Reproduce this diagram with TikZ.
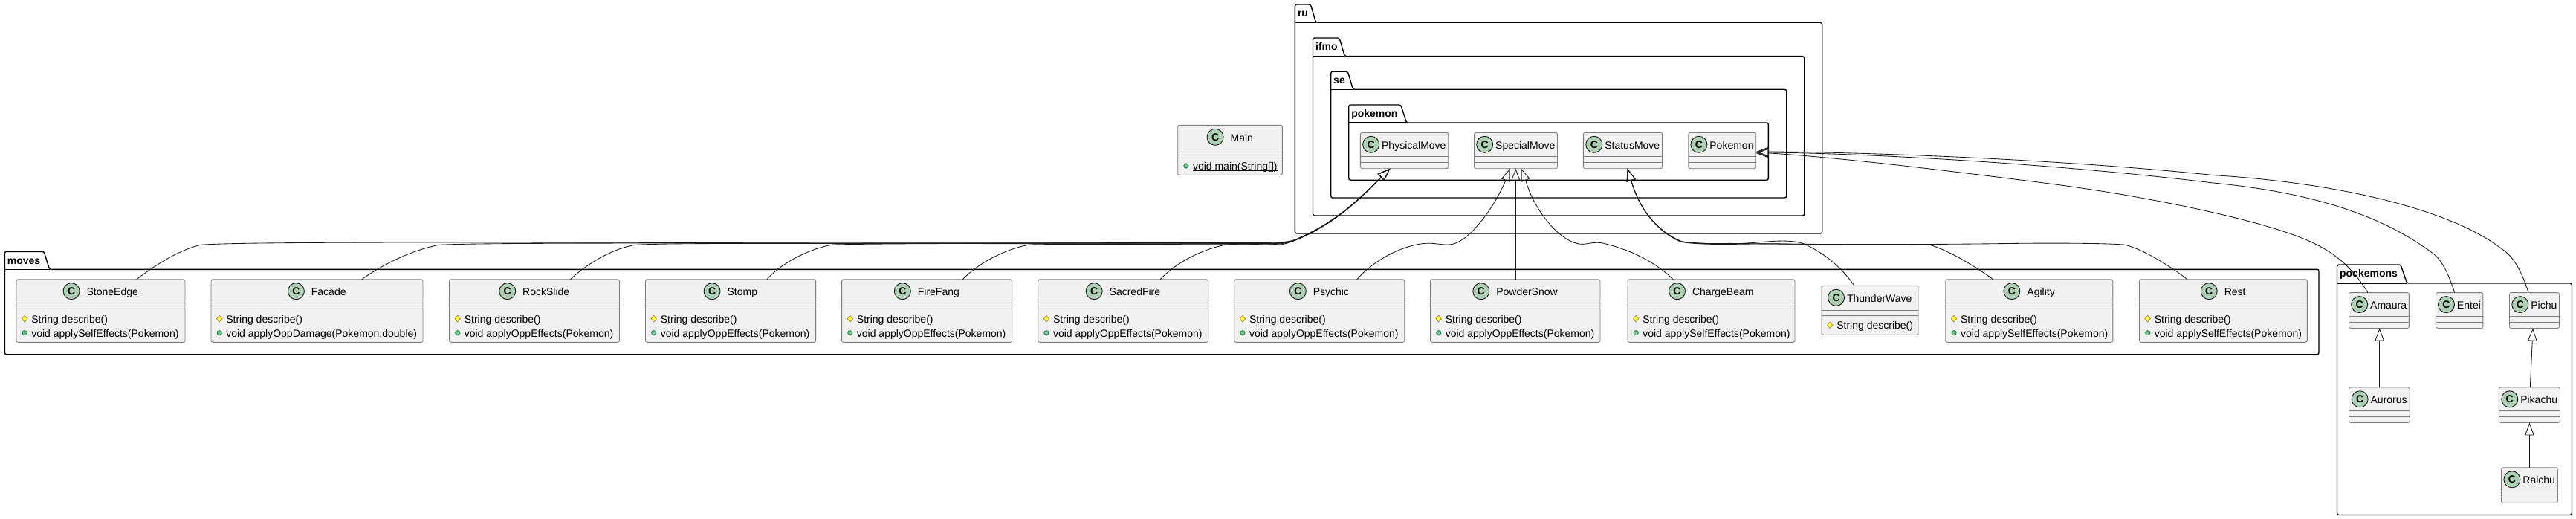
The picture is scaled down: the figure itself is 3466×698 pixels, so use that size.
\documentclass[tikz,border=0pt]{standalone}
\usepackage{fontspec}
\setmainfont{Liberation Sans}
\usetikzlibrary{arrows.meta,shapes.geometric}
\definecolor{boxline}{HTML}{7C7C7C}
\definecolor{boxfill}{HTML}{F1F1F1}
\definecolor{spotfill}{HTML}{ADD1B2}
\definecolor{edgeline}{HTML}{181818}
\definecolor{pubfill}{HTML}{84BE84}
\definecolor{publine}{HTML}{038048}
\definecolor{protfill}{HTML}{FFFF44}
\definecolor{protline}{HTML}{B38D22}
\newcommand{\umlfont}{\fontsize{14}{16}\selectfont}
\tikzset{
  x=1pt,y=-1pt,
  classbox/.style={draw=boxline,fill=boxfill,line width=.9pt,rounded corners=2.5pt,inner sep=0pt,outer sep=0pt},
  classsep/.style={draw=boxline,line width=.9pt},
  spot/.style={circle,draw=edgeline,fill=spotfill,line width=.9pt,minimum size=22pt,inner sep=0pt,font=\umlfont\bfseries},
  umltext/.style={inner sep=0pt,outer sep=0pt,anchor=base west,font=\umlfont,text=black},
  pkgline/.style={draw=black,line width=1.4pt,rounded corners=2.5pt},
  pkgrule/.style={draw=black,line width=1.4pt},
  pkglabel/.style={inner sep=0pt,outer sep=0pt,anchor=base west,font=\umlfont\bfseries,text=black},
  edge/.style={draw=edgeline,line width=.85pt},
  gen/.style={edge,-{Triangle[open,length=17pt,width=12.5pt]}},
  pubicon/.style={circle,draw=publine,fill=pubfill,line width=.8pt,minimum size=6.2pt,inner sep=0pt},
  proticon/.style={diamond,draw=protline,fill=protfill,line width=.8pt,minimum width=7.5pt,minimum height=9pt,inner sep=0pt},
}
% name, x1, y1, x2, y2, sep1, sep2, gap
\newcommand{\umlclass}[8]{%
  \node[classbox,minimum width=#4-#2,minimum height=#5-#3] (#1) at ({(#2+#4)/2},{(#3+#5)/2}) {};
  \draw[classsep] (#2,#6) -- (#4,#6);
  \draw[classsep] (#2,#7) -- (#4,#7);
  \node[umltext,anchor=base] (#1Title) at ({(#2+#4)/2},{#3+22}) {\hspace*{\dimexpr 22pt+#8pt\relax}#1};
  \node[spot] (#1Spot) at ([xshift=11pt,yshift=6pt]#1Title.base west) {C};
}
% class name, x1, baseline, kind style, text, suffix
\newcommand{\umlrow}[6]{%
  \node[#4] (#1Icon#6) at ({#2+11.2},{#3-5.3}) {};
  \node[umltext] (#1Row#6) at ({#2+20.3},#3) {#5};
}
\newcommand{\umlrows}[3]{%
  \umlrow{#1}{#2}{434}{proticon}{String describe()}{A}
  \umlrow{#1}{#2}{453}{pubicon}{#3}{B}
}
% name, x1, top, tab1, tab2, line, x2, bottom
\newcommand{\umlpkg}[8]{%
  \draw[pkgline,fill=white] (#2,#6) -- (#2,#3) -- (#4,#3) -- (#5,#6) -- (#7,#6) -- (#7,#8) -- (#2,#8) -- cycle;
  \draw[pkgrule] (#2,#6) -- (#5,#6);
  \node[pkglabel] (pkg#1) at ({#2+3.6},{#3+16.7}) {#1};
}
\begin{document}
\begin{tikzpicture}
\useasboundingbox (0,0) rectangle (3466,698);
\fill[white] (0,0) rectangle (3466,698);

% packages
\umlpkg{ru}{1742.4}{6}{1763.4}{1770.5}{30.3}{2451.7}{314}
\umlpkg{ifmo}{1766.5}{51}{1802}{1809.4}{75.7}{2427.7}{290}
\umlpkg{se}{1790.6}{96.3}{1813.4}{1820.5}{120.3}{2403.7}{266}
\umlpkg{pokemon}{1814.7}{141}{1884.8}{1892.4}{165}{2379.3}{242.3}
\umlpkg{moves}{6.3}{338.3}{59.1}{66.6}{362.3}{3120}{476.7}
\umlpkg{pockemons}{3144.5}{356}{3230}{3238.6}{381}{3460.5}{692.5}

% Main
\umlclass{Main}{1584.7}{168.3}{1725.3}{235.3}{200.3}{208.3}{9.5}
\umlrow{Main}{1584.7}{228.3}{pubicon}{void main(String[])}{A}
\draw[line width=.8pt] ([yshift=-1.3pt]MainRowA.base west) -- ([yshift=-1.3pt]MainRowA.base east);

% ru.ifmo.se.pokemon
\umlclass{PhysicalMove}{1830.4}{178.3}{1948.7}{226.7}{210.3}{218.3}{3.5}
\umlclass{SpecialMove}{1983.5}{178.3}{2095.5}{226.7}{210.3}{218.3}{3.5}
\umlclass{StatusMove}{2130.4}{178.3}{2236.6}{226.7}{210.3}{218.3}{3.5}
\umlclass{Pokemon}{2271.7}{178.3}{2362.7}{226.7}{210.3}{218.3}{3.5}

% moves
\umlclass{StoneEdge}{22}{375.7}{249}{460.3}{407.3}{415.3}{9.5}
\umlrows{StoneEdge}{22}{void applySelfEffects(Pokemon)}
\umlclass{Facade}{284}{375.7}{569}{460.3}{407.3}{415.3}{9.5}
\umlrows{Facade}{284}{void applyOppDamage(Pokemon,double)}
\umlclass{RockSlide}{604.5}{375.7}{833.5}{460.3}{407.3}{415.3}{9.5}
\umlrows{RockSlide}{604.5}{void applyOppEffects(Pokemon)}
\umlclass{Stomp}{868.5}{375.7}{1097.6}{460.3}{407.3}{415.3}{9.5}
\umlrows{Stomp}{868.5}{void applyOppEffects(Pokemon)}
\umlclass{FireFang}{1132.6}{375.7}{1361.6}{460.3}{407.3}{415.3}{9.5}
\umlrows{FireFang}{1132.6}{void applyOppEffects(Pokemon)}
\umlclass{SacredFire}{1396.7}{375.7}{1625.6}{460.3}{407.3}{415.3}{9.5}
\umlrows{SacredFire}{1396.7}{void applyOppEffects(Pokemon)}
\umlclass{Psychic}{1660.7}{375.7}{1889.7}{460.3}{407.3}{415.3}{9.5}
\umlrows{Psychic}{1660.7}{void applyOppEffects(Pokemon)}
\umlclass{PowderSnow}{1924.5}{375.7}{2153}{460.3}{407.3}{415.3}{9.5}
\umlrows{PowderSnow}{1924.5}{void applyOppEffects(Pokemon)}
\umlclass{ChargeBeam}{2190}{375.7}{2415}{460.3}{407.3}{415.3}{9.5}
\umlrows{ChargeBeam}{2190}{void applySelfEffects(Pokemon)}
\umlclass{ThunderWave}{2451}{384.3}{2581}{450.3}{417}{424.3}{3.5}
\umlrow{ThunderWave}{2451}{442.7}{proticon}{String describe()}{A}
\umlclass{Agility}{2617.8}{375.7}{2842.8}{460.3}{407.3}{415.3}{9.5}
\umlrows{Agility}{2617.8}{void applySelfEffects(Pokemon)}
\umlclass{Rest}{2878.5}{375.7}{3104.3}{460.3}{407.3}{415.3}{9.5}
\umlrows{Rest}{2878.5}{void applySelfEffects(Pokemon)}

% pockemons
\umlclass{Amaura}{3160.5}{393.6}{3241.3}{441.5}{425.4}{433.5}{3.5}
\umlclass{Entei}{3277.4}{393.6}{3340.9}{441.5}{425.4}{433.5}{3.5}
\umlclass{Pichu}{3376.5}{393.6}{3443.6}{441.5}{425.4}{433.5}{3.5}
\umlclass{Aurorus}{3160.5}{520.8}{3242.2}{568.4}{552.3}{560.3}{3.5}
\umlclass{Pikachu}{3362.3}{520.8}{3444.5}{568.4}{552.3}{560.3}{3.5}
\umlclass{Raichu}{3365.5}{628.8}{3441.3}{676.4}{660.3}{668.3}{3.5}

% edges to PhysicalMove
\draw[gen] ([xshift=48.2pt]StoneEdge.north) .. controls (215,352) and (245,335) .. (270,329.3)
  .. controls (300,327) and (400,326) .. (600,326) .. controls (1000,326) and (1500,329) .. (1700,327.5)
  .. controls (1722,327.5) and (1735,326) .. (1743,322.5) .. controls (1790,303) and (1825,273) .. (1857.3,239.3)
  -- ([xshift=-19.25pt]PhysicalMove.south);
\draw[gen] ([xshift=60.3pt]Facade.north) .. controls (520,352) and (560,335) .. (591,329.3)
  .. controls (640,327) and (800,327) .. (1000,327) .. controls (1300,327) and (1550,326) .. (1700,328)
  .. controls (1722,328.2) and (1735,326) .. (1743,322.5) .. controls (1790,303) and (1825,273) .. (1857.3,239.3)
  -- ([xshift=-19.25pt]PhysicalMove.south);
\draw[gen] ([xshift=48.5pt]RockSlide.north) .. controls (795,350) and (830,333) .. (855,329.3)
  .. controls (900,327) and (1000,327.5) .. (1150,327.5) .. controls (1400,327.5) and (1600,325.5) .. (1700,327)
  .. controls (1722,327.2) and (1735,326) .. (1743,322.5) .. controls (1790,303) and (1825,273.5) .. (1857.3,239.3)
  -- ([xshift=-19.25pt]PhysicalMove.south);
\draw[gen] ([xshift=48.9pt]Stomp.north) .. controls (1055,350) and (1095,333) .. (1121,329)
  .. controls (1200,327) and (1500,327) .. (1700,326.5)
  .. controls (1722,326.2) and (1735,325.5) .. (1743,322) .. controls (1790,303) and (1825,272.5) .. (1857.3,239.3)
  -- ([xshift=-19.25pt]PhysicalMove.south);
\draw[gen] ([xshift=48.2pt]FireFang.north) .. controls (1320,350) and (1360,333) .. (1385.8,329)
  .. controls (1450,327.5) and (1600,329) .. (1700,329)
  .. controls (1722,329) and (1735,326.5) .. (1743,323) .. controls (1790,303.5) and (1825,273) .. (1857.3,239.3)
  -- ([xshift=-19.25pt]PhysicalMove.south);
\draw[gen] ([xshift=50pt]SacredFire.north) .. controls (1585,350) and (1625,333) .. (1650.5,329)
  .. controls (1670,327.5) and (1690,328.5) .. (1712,329.5)
  .. controls (1725,330) and (1735,326.5) .. (1743,323) .. controls (1790,304) and (1825,273.5) .. (1857.3,239.3)
  -- ([xshift=-19.25pt]PhysicalMove.south);

% edges to SpecialMove
\draw[gen] ([xshift=50.7pt]Psychic.north) .. controls (1850,348) and (1890,329) .. (1918.4,327.3)
  .. controls (1930,326.5) and (1938,329.5) .. (1950,329) .. controls (1975,328) and (2010,280) .. (2025.5,243.3)
  -- ([xshift=-7.8pt]SpecialMove.south);
\draw[gen] ([xshift=.55pt]PowderSnow.north) -- ([xshift=-.2pt]SpecialMove.south);
\draw[gen] ([xshift=-51.5pt]ChargeBeam.north) .. controls (2225,350) and (2190,335) .. (2156.7,327)
  .. controls (2145,324.5) and (2135,329) .. (2126.7,328.3) .. controls (2100,326) and (2065,285) .. (2052.8,243)
  -- ([xshift=7.2pt]SpecialMove.south);

% edges to StatusMove
\draw[gen] ([xshift=-21pt]ThunderWave.north) .. controls (2478,360) and (2455,340) .. (2426,327.5)
  .. controls (2410,322.5) and (2390,324) .. (2370,325.5) .. controls (2340,328.5) and (2300,329) .. (2262,325)
  .. controls (2232,312) and (2207,285) .. (2195,243.7) -- ([xshift=6.2pt]StatusMove.south);
\draw[gen] ([xshift=-48.6pt]Agility.north) .. controls (2660,360) and (2625,338) .. (2596.7,329.3)
  .. controls (2585,328) and (2480,329.5) .. (2400,328) .. controls (2350,327) and (2300,331) .. (2262,325.5)
  .. controls (2232,312.5) and (2207,285) .. (2195,243.7) -- ([xshift=6.2pt]StatusMove.south);
\draw[gen] ([xshift=-48.5pt]Rest.north) .. controls (2920,358) and (2885,336) .. (2859.6,329.3)
  .. controls (2845,327.5) and (2780,326.5) .. (2700,327.5) .. controls (2600,329) and (2450,329) .. (2340,327.5)
  .. controls (2310,327) and (2285,329) .. (2262,324.5)
  .. controls (2232,311.5) and (2207,285) .. (2195,243.7) -- ([xshift=6.2pt]StatusMove.south);

% edges to Pokemon
\draw[gen] ([xshift=-14.9pt]Amaura.north) .. controls (3170,368) and (3150,345) .. (3115,328)
  .. controls (3060,300) and (2900,265) .. (2750,246) .. controls (2640,232) and (2480,212) .. (2381,206)
  -- ([yshift=-3.5pt]Pokemon.east);
\draw[gen] ([xshift=-6.6pt]Entei.north) .. controls (3295,370) and (3287,352) .. (3275,342)
  .. controls (3200,285) and (3100,258) .. (2978,246) .. controls (2780,222) and (2540,207) .. (2381,205)
  -- ([yshift=-2.5pt]Pokemon.east);
\draw[gen] ([xshift=-8pt]Pichu.north) .. controls (3393,365) and (3382,345) .. (3366.4,335)
  .. controls (3300,283) and (3150,246) .. (2978,235.6) .. controls (2780,215) and (2530,205) .. (2381,204)
  -- ([yshift=-1.5pt]Pokemon.east);

% edges inside pockemons
\draw[gen] ([xshift=.25pt]Aurorus.north) -- ([xshift=.7pt]Amaura.south);
\draw[gen] ([xshift=.9pt]Pikachu.north) -- ([xshift=-2pt]Pichu.south);
\draw[gen] (Raichu.north) -- (Pikachu.south);
\end{tikzpicture}
\end{document}
